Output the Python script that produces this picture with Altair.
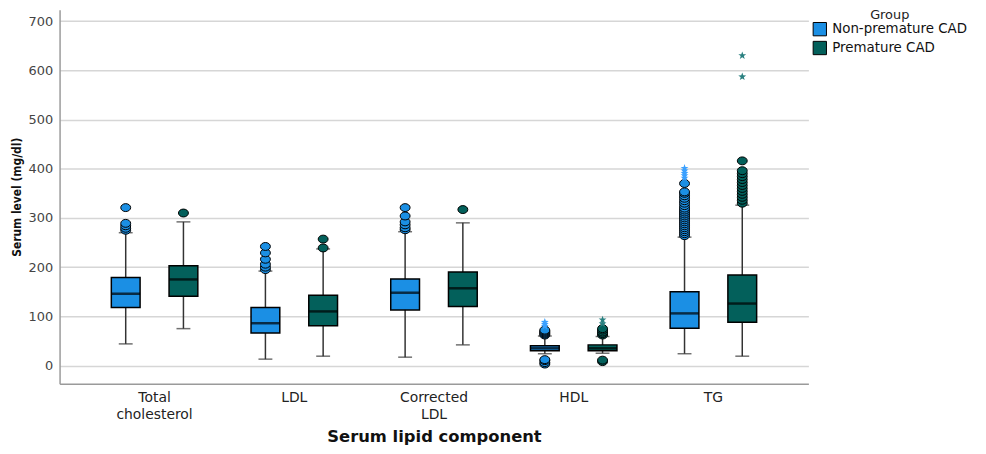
import altair as alt
import pandas as pd

categories = ["Total cholesterol", "LDL", "Corrected LDL", "HDL", "TG"]
groups = ["Non-premature CAD", "Premature CAD"]

# Non-premature CAD box statistics
np_q1 = [118, 66, 113, 30, 76]
np_median = [146, 86, 148, 35, 106]
np_q3 = [179, 118, 176, 40, 150]
np_wlo = [44, 13, 17, 24, 24]
np_whi = [270, 192, 272, 60, 261]

# Premature CAD box statistics
p_q1 = [141, 81, 120, 30, 88]
p_median = [175, 110, 157, 35, 126]
p_q3 = [203, 143, 190, 42, 184]
p_wlo = [75, 19, 42, 25, 19]
p_whi = [292, 237, 290, 59, 326]

# Outliers (circles) and extreme values (stars)
np_tc_out = [275, 279, 284, 289, 321]
p_tc_out = [310]
np_ldl_out = [195, 200, 206, 216, 229, 242]
p_ldl_out = [239, 257]
np_cldl_out = [276, 280, 286, 292, 304, 321]
p_cldl_out = [317]
np_hdl_out = [3, 6, 10, 12, 62, 64, 66, 68, 70, 72]
np_hdl_ext = [80, 84, 88]
p_hdl_out = [8, 11, 62, 65, 68, 72, 75]
p_hdl_ext = [85, 93]
np_tg_out = [264, 268, 272, 276, 280, 284, 288, 292, 296, 300, 304, 308, 312,
             316, 320, 325, 330, 335, 340, 345, 350, 353, 370]
np_tg_ext = [381, 386, 391, 396, 401]
p_tg_out = [330, 336, 342, 348, 354, 360, 366, 372, 378, 384, 390, 396, 416]
p_tg_ext = [587, 630]

box_colors = ["#1b8fe4", "#03605b"]
star_colors = ["#3aa0ff", "#2a8080"]

rows = []
for i, c in enumerate(categories):
    rows.append(dict(cat=c, group=groups[0], q1=np_q1[i], med=np_median[i],
                     q3=np_q3[i], wlo=np_wlo[i], whi=np_whi[i]))
    rows.append(dict(cat=c, group=groups[1], q1=p_q1[i], med=p_median[i],
                     q3=p_q3[i], wlo=p_wlo[i], whi=p_whi[i]))
box_df = pd.DataFrame(rows)

out_rows = []
def add(lst, cat, grp, kind):
    for v in lst:
        out_rows.append(dict(cat=cat, group=grp, value=v, kind=kind))

add(np_tc_out, categories[0], groups[0], "out")
add(p_tc_out, categories[0], groups[1], "out")
add(np_ldl_out, categories[1], groups[0], "out")
add(p_ldl_out, categories[1], groups[1], "out")
add(np_cldl_out, categories[2], groups[0], "out")
add(p_cldl_out, categories[2], groups[1], "out")
add(np_hdl_out, categories[3], groups[0], "out")
add(np_hdl_ext, categories[3], groups[0], "ext")
add(p_hdl_out, categories[3], groups[1], "out")
add(p_hdl_ext, categories[3], groups[1], "ext")
add(np_tg_out, categories[4], groups[0], "out")
add(np_tg_ext, categories[4], groups[0], "ext")
add(p_tg_out, categories[4], groups[1], "out")
add(p_tg_ext, categories[4], groups[1], "ext")
out_df = pd.DataFrame(out_rows)

FONT = "DejaVu Sans"

x_enc = alt.X(
    "cat:N", sort=categories,
    scale=alt.Scale(paddingInner=0, paddingOuter=0.18),
    axis=alt.Axis(title="Serum lipid component", labelAngle=0, ticks=False,
                  labelExpr="split(datum.label, ' ')", labelFontSize=14,
                  labelLineHeight=17, labelPadding=7, labelColor="#222",
                  titleFontSize=16.5, titleFontWeight="bold", titlePadding=7,
                  titleColor="#111", domainColor="#9a9a9a", domainWidth=1.5,
                  labelFont=FONT, titleFont=FONT),
)
xo_enc = alt.XOffset("group:N", sort=groups,
                     scale=alt.Scale(paddingOuter=0.21, paddingInner=0))
y_scale = alt.Scale(domain=[-37, 723], nice=False, zero=False)
y_axis = alt.Axis(title="Serum level (mg/dl)", values=list(range(0, 701, 100)),
                  ticks=False, grid=True, gridColor="#d6d6d6", gridWidth=1.5,
                  labelFontSize=13, labelColor="#444", labelPadding=7,
                  titleFontSize=12, titleFontWeight="bold", titlePadding=5,
                  titleColor="#111", domainColor="#9a9a9a", domainWidth=1.5,
                  labelFont=FONT,
                  titleFont="Liberation Sans Narrow, DejaVu Sans Condensed, Liberation Sans")
color_scale = alt.Scale(domain=groups, range=box_colors)

base = alt.Chart(box_df).encode(x=x_enc, xOffset=xo_enc)

whisker = base.mark_rule(color="#333", strokeWidth=1.5).encode(
    y=alt.Y("wlo:Q", scale=y_scale, axis=y_axis), y2="whi:Q")
cap_lo = base.mark_tick(size=14, thickness=1.5, color="#333").encode(
    y=alt.Y("wlo:Q", scale=y_scale))
cap_hi = base.mark_tick(size=14, thickness=1.5, color="#333").encode(
    y=alt.Y("whi:Q", scale=y_scale))
box = base.mark_bar(size=29, stroke="black", strokeWidth=1.5).encode(
    y=alt.Y("q1:Q", scale=y_scale), y2="q3:Q",
    color=alt.Color("group:N", scale=color_scale, sort=groups,
                    legend=alt.Legend(title="Group")))
median = base.mark_tick(size=29, thickness=2.5, color="black").encode(
    y=alt.Y("med:Q", scale=y_scale))

ellipse = "M-1,0A1,0.8 0 1,0 1,0A1,0.8 0 1,0 -1,0Z"
star = ("M0,-1L0.24,-0.33L0.95,-0.31L0.38,0.12L0.59,0.81L0,0.4L-0.59,0.81"
        "L-0.38,0.12L-0.95,-0.31L-0.24,-0.33Z")

obase = alt.Chart(out_df).encode(x=x_enc, xOffset=xo_enc)
circles = obase.transform_filter(alt.datum.kind == "out").mark_point(
    filled=True, shape=ellipse, size=100, stroke="black", strokeWidth=1,
    opacity=1).encode(
    y=alt.Y("value:Q", scale=y_scale),
    color=alt.Color("group:N", scale=color_scale, legend=None))
stars = obase.transform_filter(alt.datum.kind == "ext").mark_point(
    filled=True, shape=star, size=70, opacity=1).encode(
    y=alt.Y("value:Q", scale=y_scale),
    fill=alt.Fill("group:N", scale=alt.Scale(domain=groups, range=star_colors),
                  legend=None))

chart = alt.layer(whisker, cap_lo, cap_hi, box, median, circles, stars).properties(
    width=755, height=377,
    background="white",
    autosize=alt.AutoSizeParams(type="none"),
    padding={"left": 52, "top": 0, "right": 171, "bottom": 69},
).configure_view(strokeWidth=0).configure_legend(
    orient="none", legendX=759, legendY=-1, titleAnchor="middle",
    titleFontSize=13, titleFontWeight="normal", titleColor="#222",
    labelFontSize=13.5, labelColor="#111", symbolType="square", symbolSize=180,
    symbolStrokeColor="black", symbolStrokeWidth=1, rowPadding=0,
    titleFont=FONT, labelFont=FONT, titlePadding=0, labelOffset=5,
)

chart.save("out.html", embed_options={"renderer": "svg", "actions": False})
